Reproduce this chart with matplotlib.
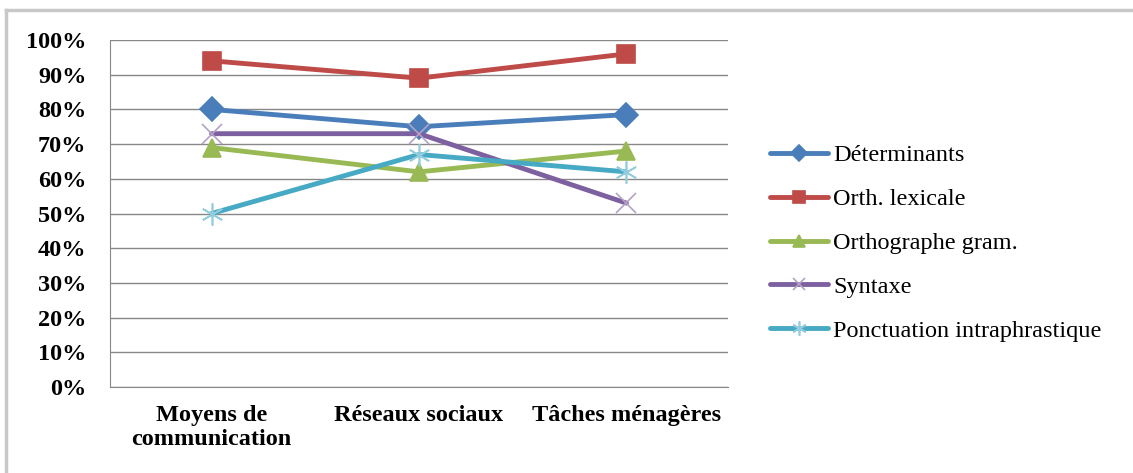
import matplotlib.pyplot as plt
from matplotlib.lines import Line2D
from matplotlib.ticker import PercentFormatter

categories = ['Moyens de\ncommunication', 'Réseaux sociaux', 'Tâches ménagères']
series_names = ['Déterminants', 'Orth. lexicale', 'Orthographe gram.', 'Syntaxe', 'Ponctuation intraphrastique']
determinants = [80, 75, 78.5]
orth_lexicale = [94, 89, 96]
orth_gram = [69, 62, 68]
syntaxe = [73, 73, 53]
ponctuation = [50, 67, 62]
y_ticks = [0, 10, 20, 30, 40, 50, 60, 70, 80, 90, 100]

plt.rcParams['font.family'] = ['Liberation Serif', 'DejaVu Serif']

fig = plt.figure(figsize=(11.33, 4.73), dpi=100)
ax = fig.add_axes([110 / 1133, 1 - 387 / 473, (728 - 110) / 1133, (387 - 40) / 473])

x = list(range(len(categories)))
styles = [
    (determinants, '#4A7EBB', 'D', '#4A7EBB', 12),
    (orth_lexicale, '#BE4B48', 's', '#BE4B48', 13),
    (orth_gram, '#98B954', '^', '#98B954', 13),
    (syntaxe, '#7D60A0', 'x', '#B3A2C7', 14),
    (ponctuation, '#46AAC5', (6, 2, 0), '#93CDDD', 16),
]
for (vals, col, mk, mcol, ms), name in zip(styles, series_names):
    ax.plot(x, vals, color=col, lw=3.5, marker=mk, markersize=ms,
            markerfacecolor=mcol, markeredgecolor=mcol, markeredgewidth=1.2,
            label=name, solid_joinstyle='round', solid_capstyle='round')

ax.set_xlim(-0.49, 2.49)
ax.set_ylim(0, 100)
ax.set_yticks(y_ticks)
ax.yaxis.set_major_formatter(PercentFormatter(decimals=0))
ax.grid(axis='y', color='#878787', lw=1)
ax.set_axisbelow(True)
for s in ['top', 'right']:
    ax.spines[s].set_visible(False)
ax.spines['left'].set_color('#878787')
ax.spines['bottom'].set_color('#878787')
ax.tick_params(length=0)
ax.tick_params(axis='y', pad=17, labelsize=17.5)
ax.tick_params(axis='x', pad=13, labelsize=17.5)
for t in ax.get_yticklabels() + ax.get_xticklabels():
    t.set_fontweight('bold')
ax.set_xticks(x)
ax.set_xticklabels(categories, linespacing=1.2)

handles, labels = ax.get_legend_handles_labels()
leg = fig.legend(handles, labels, loc='center left', bbox_to_anchor=(748 / 1133, 1 - 243 / 473),
                 frameon=False, fontsize=17.5, handlelength=2.4, labelspacing=0.9,
                 handletextpad=0.2, markerscale=0.65)

# outer chart border (top and left only visible)
fig.add_artist(Line2D([6 / 1133, 1], [1 - 10 / 473, 1 - 10 / 473], color='#C8C8C8', lw=2.5))
fig.add_artist(Line2D([6 / 1133, 6 / 1133], [0, 1 - 10 / 473], color='#C8C8C8', lw=2.5))

fig.savefig('out.png', dpi=100)
